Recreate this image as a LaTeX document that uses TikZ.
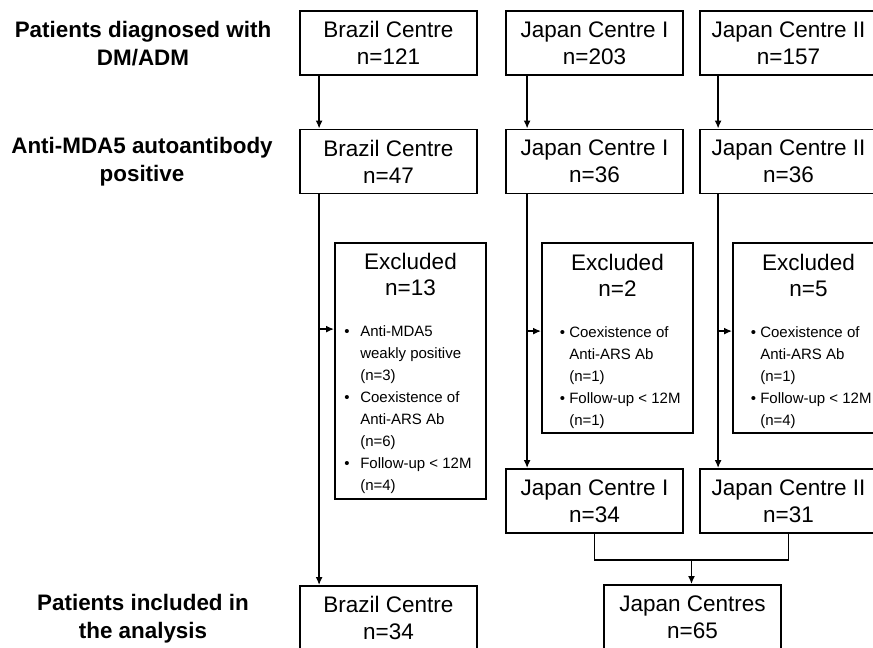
\documentclass[tikz,border=0pt]{standalone}
\usepackage{fontspec}
\setmainfont{Liberation Sans}
\usetikzlibrary{arrows.meta,calc}
\begin{document}
\begin{tikzpicture}[x=1pt,y=-1pt,
  box/.style={draw, line width=1.8pt, minimum width=177pt, minimum height=64pt, inner sep=0pt, align=center, font=\fontsize{22.5}{27}\selectfont},
  exbox/.style={draw, line width=1.8pt, minimum width=151pt, inner sep=0pt},
  extitle/.style={anchor=north, inner sep=0pt, align=center, font=\fontsize{22.5}{25.5}\selectfont},
  exlist/.style={anchor=north west, inner sep=0pt, align=left, font=\fontsize{15}{22}\selectfont},
  rowlabel/.style={align=center, inner sep=0pt, font=\fontsize{22.4}{28}\selectfont\bfseries},
  conn/.style={line width=1.8pt},
  arr/.style={line width=1.8pt, -{Latex[length=8pt,width=7pt]}}]
\clip (0,0) rectangle (873,648);
\fill[white] (0,0) rectangle (873,648);
% row labels
\node[rowlabel] (l1) at (143,44) {Patients diagnosed with\\DM/ADM};
\node[rowlabel] (l2) at (142,162) {Anti-MDA5 autoantibody\\positive};
\node[rowlabel] (l3) at (143,619) {Patients included in\\the analysis};
% row 1
\node[box] (b1) at (388.5,43) {Brazil Centre\\n=121};
\node[box] (j1a) at (594.5,43) {Japan Centre I\\n=203};
\node[box] (j2a) at (788.5,43) {Japan Centre II\\n=157};
% row 2
\node[box] (b2) at (388.5,161.5) {Brazil Centre\\n=47};
\node[box] (j1b) at (594.5,161.5) {Japan Centre I\\n=36};
\node[box] (j2b) at (788.5,161.5) {Japan Centre II\\n=36};
% excluded
\node[exbox, minimum height=256pt] (ex1) at (410.5,371) {};
\node[exbox, minimum height=190pt] (ex2) at (617.5,338) {};
\node[exbox, minimum height=190pt] (ex3) at (808.5,338) {};
\node[extitle] (ex1t) at ($(ex1.north)+(0,11)$) {Excluded\\n=13};
\node[extitle] (ex2t) at ($(ex2.north)+(0,12)$) {Excluded\\n=2};
\node[extitle] (ex3t) at ($(ex3.north)+(0,12)$) {Excluded\\n=5};
\node[exlist] (ex1l) at ($(ex1.north west)+(10,83.5)$) {%
\makebox[16pt][l]{•}Anti-MDA5\\
\makebox[16pt][l]{}weakly positive\\
\makebox[16pt][l]{}(n=3)\\
\makebox[16pt][l]{•}Coexistence of\\
\makebox[16pt][l]{}Anti-ARS Ab\\
\makebox[16pt][l]{}(n=6)\\
\makebox[16pt][l]{•}Follow-up < 12M\\
\makebox[16pt][l]{}(n=4)};
\node[exlist] (ex2l) at ($(ex2.north west)+(18.5,84)$) {%
\makebox[9.5pt][l]{•}Coexistence of\\
\makebox[9.5pt][l]{}Anti-ARS Ab\\
\makebox[9.5pt][l]{}(n=1)\\
\makebox[9.5pt][l]{•}Follow-up < 12M\\
\makebox[9.5pt][l]{}(n=1)};
\node[exlist] (ex3l) at ($(ex3.north west)+(18.5,84)$) {%
\makebox[9.5pt][l]{•}Coexistence of\\
\makebox[9.5pt][l]{}Anti-ARS Ab\\
\makebox[9.5pt][l]{}(n=1)\\
\makebox[9.5pt][l]{•}Follow-up < 12M\\
\makebox[9.5pt][l]{}(n=4)};
% row 3
\node[box] (j1c) at (594.5,501) {Japan Centre I\\n=34};
\node[box] (j2c) at (788.5,501) {Japan Centre II\\n=31};
% final
\node[box] (bf) at (388.5,618) {Brazil Centre\\n=34};
\node[box] (jf) at (692.5,617) {Japan Centres\\n=65};
% connectors row1 -> row2
\draw[arr] ([xshift=20pt]b1.south west) -- ([xshift=20pt]b2.north west);
\draw[arr] ([xshift=22pt]j1a.south west) -- ([xshift=22pt]j1b.north west);
\draw[arr] ([xshift=19pt]j2a.south west) -- ([xshift=19pt]j2b.north west);
% vertical lines
\draw[arr] ([xshift=20pt]b2.south west) coordinate (bl) -- ([xshift=20pt]bf.north west);
\draw[arr] ([xshift=22pt]j1b.south west) coordinate (jl1) -- ([xshift=22pt]j1c.north west);
\draw[arr] ([xshift=19pt]j2b.south west) coordinate (jl2) -- ([xshift=19pt]j2c.north west);
% side arrows to excluded
\coordinate (e1in) at ($(ex1.north west)+(0,87)$);
\coordinate (e2in) at ($(ex2.north west)+(0,89)$);
\coordinate (e3in) at ($(ex3.north west)+(0,89)$);
\draw[arr] (bl |- e1in) -- (e1in);
\draw[arr] (jl1 |- e2in) -- (e2in);
\draw[arr] (jl2 |- e3in) -- (e3in);
% merge
\coordinate (m) at ($(j1c.south)!0.5!(j2c.south)+(0,26)$);
\draw[conn] (j1c.south) |- (m) -| (j2c.south);
\draw[arr] (m) -- (m |- jf.north);
\end{tikzpicture}
\end{document}
